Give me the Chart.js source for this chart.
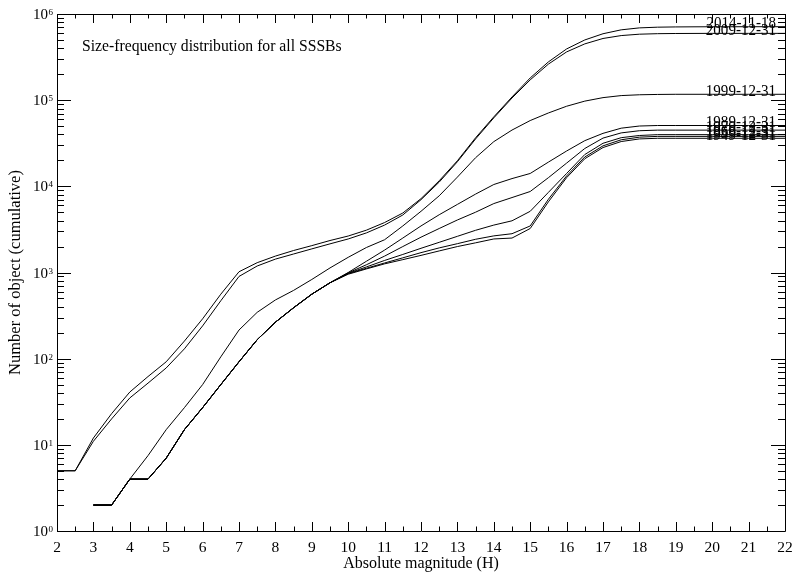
<!DOCTYPE html>
<html>
<head>
<meta charset="utf-8">
<script src="https://cdn.jsdelivr.net/npm/chart.js@4.4.1/dist/chart.umd.min.js"></script>
<style>
  html, body { margin: 0; padding: 0; background: #fff; }
  #wrap { width: 796px; height: 573px; }
</style>
</head>
<body>
<div id="wrap"><canvas id="canvas_sfd" width="796" height="573"></canvas></div>
<script>
// Cumulative number of SSSBs brighter than H, one curve per epoch
var hMag = [2, 2.5, 3, 3.5, 4, 4.5, 5, 5.5, 6, 6.5, 7, 7.5, 8, 8.5, 9, 9.5, 10, 10.5,
	11, 11.5, 12, 12.5, 13, 13.5, 14, 14.5, 15, 15.5, 16, 16.5, 17, 17.5, 18, 18.5,
	19, 19.5, 20, 20.5, 21, 21.5, 22];

var n20141118 = [5, 5, 12, 23, 41, 62, 92, 160, 290, 560, 1020, 1300, 1550, 1800, 2050,
	2350, 2650, 3100, 3800, 4900, 7200, 11600, 19800, 36600, 64000, 109000, 181000,
	278000, 393000, 500000, 590000, 655000, 690000, 703000, 708000, 710000, 711000,
	711000, 712000, 712000, 712000];
var n20091231 = [5, 5, 11, 20, 35, 52, 78, 130, 240, 470, 900, 1190, 1430, 1640, 1880,
	2150, 2450, 2880, 3550, 4650, 7000, 11200, 19300, 35500, 62300, 106000, 172000,
	262000, 363000, 450000, 520000, 562000, 583000, 591000, 594000, 595000, 596000,
	596000, 596000, 596000, 596000];
var n19991231 = [null, null, 2, 2, 4, 7.5, 15, 27, 50, 105, 215, 345, 480, 620, 830,
	1130, 1500, 1950, 2400, 3470, 5130, 7760, 12800, 21500, 33000, 45000, 58000, 71000,
	85000, 97500, 107000, 113000, 115500, 116500, 117000, 117000, 117000, 117000,
	117000, 117000, 117000];
var n19891231 = [null, null, 2, 2, 4, 4, 7, 15, 27, 50, 92, 166, 265, 390, 560, 760,
	1000, 1350, 1820, 2510, 3470, 4680, 6170, 8130, 10500, 12300, 14100, 19100, 25700,
	33900, 41200, 47300, 50100, 50800, 50800, 50800, 50800, 50800, 50800, 50800, 50800];
var n19791231 = [null, null, 2, 2, 4, 4, 7, 15, 27, 50, 92, 166, 265, 390, 560, 760,
	990, 1230, 1550, 2000, 2570, 3240, 4070, 5010, 6310, 7410, 8710, 12600, 18600,
	27500, 36300, 41700, 44200, 44900, 44900, 44900, 44900, 44900, 44900, 44900, 44900];
var n19691231 = [null, null, 2, 2, 4, 4, 7, 15, 27, 50, 92, 166, 265, 390, 560, 760,
	980, 1160, 1380, 1620, 1910, 2240, 2630, 3090, 3550, 3980, 5130, 8510, 14100,
	23400, 31600, 36700, 38900, 39800, 39800, 39800, 39800, 39800, 39800, 39800, 39800];
var n19591231 = [null, null, 2, 2, 4, 4, 7, 15, 27, 50, 92, 166, 265, 390, 560, 760,
	970, 1120, 1290, 1480, 1700, 1930, 2160, 2430, 2660, 2820, 3470, 7080, 13200,
	21900, 29500, 34700, 37200, 38000, 38000, 38000, 38000, 38000, 38000, 38000, 38000];
var n19491231 = [null, null, 2, 2, 4, 4, 7, 15, 27, 50, 92, 166, 265, 390, 560, 760,
	955, 1100, 1260, 1410, 1580, 1780, 2000, 2210, 2450, 2510, 3240, 6610, 12600,
	20900, 28200, 33100, 35500, 36100, 36100, 36100, 36100, 36100, 36100, 36100, 36100];

var epochs = [ "2014-11-18", "2009-12-31", "1999-12-31", "1989-12-31", "1979-12-31",
	"1969-12-31", "1959-12-31", "1949-12-31" ];
var counts = [ n20141118, n20091231, n19991231, n19891231, n19791231, n19691231,
	n19591231, n19491231 ];

var xTicks = [2, 3, 4, 5, 6, 7, 8, 9, 10, 11, 12, 13, 14, 15, 16, 17, 18, 19, 20, 21, 22];
var yDecades = [0, 1, 2, 3, 4, 5, 6];

var serif = '"Liberation Serif", "Times New Roman", serif';

function toPoints(arr) {
	var pts = [];
	for (var i = 0; i < hMag.length; i++) {
		if (arr[i] != null) {
			pts.push({ x : hMag[i], y : arr[i] });
		}
	}
	return pts;
}

// axes box, inward ticks, labels and epoch names
var idlAxes = {
	id : 'idlAxes',
	beforeDraw : function(chart) {
		var ctx = chart.ctx;
		ctx.save();
		ctx.fillStyle = '#fff';
		ctx.fillRect(0, 0, chart.width, chart.height);
		ctx.restore();
	},
	afterDraw : function(chart) {
		var ctx = chart.ctx, a = chart.chartArea;
		var xs = chart.scales.x, ys = chart.scales.y;
		ctx.save();
		ctx.strokeStyle = '#000';
		ctx.fillStyle = '#000';
		ctx.lineWidth = 1;

		ctx.beginPath();
		ctx.rect(Math.round(a.left) + 0.5, Math.round(a.top) + 0.5,
				Math.round(a.right - a.left), Math.round(a.bottom - a.top));
		ctx.stroke();

		// x ticks: majors on integers, minors on halves
		ctx.beginPath();
		for (var v = xTicks[0]; v <= xTicks[xTicks.length - 1]; v += 0.5) {
			var px = Math.round(xs.getPixelForValue(v)) + 0.5;
			var len = (v % 1 === 0) ? 9 : 4.5;
			ctx.moveTo(px, a.bottom);
			ctx.lineTo(px, a.bottom - len);
			ctx.moveTo(px, a.top);
			ctx.lineTo(px, a.top + len);
		}
		// y ticks: decades plus 2..9
		for (var d = 0; d < yDecades.length; d++) {
			for (var m = 1; m <= 9; m++) {
				if (d === yDecades.length - 1 && m > 1) break;
				var py = Math.round(ys.getPixelForValue(m * Math.pow(10, yDecades[d]))) + 0.5;
				var l = (m === 1) ? 14 : 7;
				ctx.moveTo(a.left, py);
				ctx.lineTo(a.left + l, py);
				ctx.moveTo(a.right, py);
				ctx.lineTo(a.right - l, py);
			}
		}
		ctx.stroke();

		// x tick labels
		ctx.font = '15.5px ' + serif;
		ctx.textAlign = 'center';
		ctx.textBaseline = 'alphabetic';
		xTicks.forEach(function(t) {
			ctx.fillText(String(t), xs.getPixelForValue(t), a.bottom + 21);
		});

		// y tick labels 10^n
		yDecades.forEach(function(e) {
			var py = ys.getPixelForValue(Math.pow(10, e));
			var right = a.left - 4;
			ctx.font = '9px ' + serif;
			var ew = ctx.measureText(String(e)).width;
			ctx.textAlign = 'left';
			ctx.fillText(String(e), right - ew, py + 1);
			ctx.font = '15px ' + serif;
			ctx.textAlign = 'right';
			ctx.fillText('10', right - ew - 0.5, py + 5);
		});

		// axis titles
		ctx.font = '16px ' + serif;
		ctx.textAlign = 'center';
		ctx.fillText('Absolute magnitude (H)', (a.left + a.right) / 2, chart.height - 5);
		ctx.save();
		ctx.translate(20, (a.top + a.bottom) / 2);
		ctx.rotate(-Math.PI / 2);
		ctx.font = '16.5px ' + serif;
		ctx.fillText('Number of object (cumulative)', 0, 0);
		ctx.restore();

		// inset title
		ctx.textAlign = 'left';
		ctx.font = '15.7px ' + serif;
		ctx.fillText('Size-frequency distribution for all SSSBs', 82, 51);

		// epoch names at the end of each curve
		ctx.font = '16px ' + serif;
		ctx.textAlign = 'right';
		counts.forEach(function(arr, i) {
			var py = ys.getPixelForValue(arr[arr.length - 1]);
			ctx.save();
			ctx.translate(a.right - 9, py + 1.5);
			ctx.scale(0.94, 1);
			ctx.fillText(epochs[i], 0, 0);
			ctx.restore();
		});
		ctx.restore();
	}
};

function setSfdChart() {
	var datasets = counts.map(function(arr, i) {
		return {
			label : epochs[i],
			data : toPoints(arr),
			borderColor : '#000',
			borderWidth : 1,
			pointRadius : 0,
			tension : 0,
			fill : false
		};
	});

	var sfdChart = new Chart(document.getElementById("canvas_sfd"), {
		type : 'line',
		data : {
			datasets : datasets
		},
		options : {
			responsive : false,
			animation : false,
			events : [],
			layout : {
				padding : { left : 57, right : 11, top : 14, bottom : 42 }
			},
			plugins : {
				legend : { display : false },
				tooltip : { enabled : false }
			},
			scales : {
				x : { type : 'linear', min : 2, max : 22, display : false },
				y : { type : 'logarithmic', min : 1, max : 1000000, display : false }
			}
		},
		plugins : [ idlAxes ]
	});
}

setSfdChart();
</script>
</body>
</html>
